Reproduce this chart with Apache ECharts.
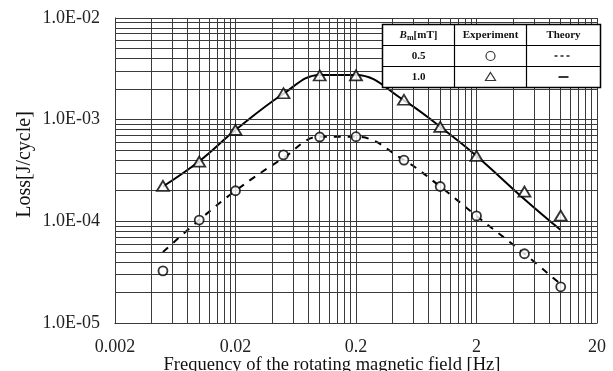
<!DOCTYPE html>
<html>
<head>
<meta charset="utf-8">
<script src="https://cdn.jsdelivr.net/npm/echarts@6/dist/echarts.min.js"></script>
<style>
  html, body { margin: 0; padding: 0; background: #fff; }
  #chart { width: 613px; height: 371px; }
</style>
</head>
<body>
<div id="chart"></div>
<script>
// frequency of the rotating field [Hz]
const freqs = [0.005, 0.01, 0.02, 0.05, 0.1, 0.2, 0.5, 1, 2, 5, 10];
// measured loss [J/cycle]
const exp05 = [3.26e-5, 1.03e-4, 2.0e-4, 4.5e-4, 6.75e-4, 6.8e-4, 4.0e-4, 2.2e-4, 1.13e-4, 4.8e-5, 2.27e-5];
const exp10 = [2.23e-4, 3.87e-4, 7.94e-4, 1.82e-3, 2.72e-3, 2.73e-3, 1.57e-3, 8.5e-4, 4.4e-4, 1.96e-4, 1.14e-4];
// theory curves
const theory05 = [5.0e-5, 1.03e-4, 2.0e-4, 4.2e-4, 6.8e-4, 6.8e-4, 4.0e-4, 2.2e-4, 1.13e-4, 4.8e-5, 2.4e-5];
const theory10 = [2.2e-4, 3.9e-4, 7.9e-4, 1.8e-3, 2.75e-3, 2.75e-3, 1.55e-3, 8.5e-4, 4.4e-4, 1.65e-4, 8.2e-5];
// axis labels
const xTicks = [0.002, 0.02, 0.2, 2, 20];
const yTicks = [1e-5, 1e-4, 1e-3, 1e-2];

const serif = '"Liberation Serif", "Times New Roman", serif';

// major + minor (2..9) grid positions for each decade
function gridValues(ticks) {
  const out = [];
  for (let i = 0; i < ticks.length - 1; i++) {
    for (let k = 1; k < 10; k++) out.push(+(ticks[i] * k).toPrecision(3));
  }
  out.push(ticks[ticks.length - 1]);
  return out;
}

function sciLabel(v) {
  const parts = v.toExponential(1).split('e');
  const n = Math.round(+parts[1]);
  return parts[0] + 'E' + (n < 0 ? '-' : '+') + String(Math.abs(n)).padStart(2, '0');
}

const pair = arr => freqs.map((f, i) => [f, arr[i]]);

const chart = echarts.init(document.getElementById('chart'), null, { renderer: 'canvas' });

const tblX = 380, tblY = 22, tblW = 218, tblH = 63;
const c1 = 72, c2 = 144, rH = tblH / 3;
const bold = 'bold 11px ' + serif;

const gridLine = {
  silent: true,
  precision: 12,
  symbol: ['none', 'none'],
  label: { show: false },
  lineStyle: { color: '#3a3a3a', width: 1, type: 'solid' },
  emphasis: { disabled: true }
};

// legend table drawn on top of the plot
const tableParts = [
  { type: 'rect', shape: { x: 0, y: 0, width: tblW, height: tblH }, style: { fill: '#fff', stroke: '#000', lineWidth: 1.5 } },
  { type: 'line', shape: { x1: 0, y1: rH, x2: tblW, y2: rH }, style: { stroke: '#000', lineWidth: 1.2 } },
  { type: 'line', shape: { x1: 0, y1: 2 * rH, x2: tblW, y2: 2 * rH }, style: { stroke: '#000', lineWidth: 1.2 } },
  { type: 'line', shape: { x1: c1, y1: 0, x2: c1, y2: tblH }, style: { stroke: '#000', lineWidth: 1.2 } },
  { type: 'line', shape: { x1: c2, y1: 0, x2: c2, y2: tblH }, style: { stroke: '#000', lineWidth: 1.2 } },
  {
    type: 'text',
    style: {
      x: c1 / 2, y: rH / 2, align: 'center', verticalAlign: 'middle',
      text: '{bi|B}{sub|m}{b|[mT]}',
      rich: {
        bi: { font: 'italic bold 11px ' + serif, fill: '#111', lineHeight: 14 },
        sub: { font: 'bold 8px ' + serif, fill: '#111', verticalAlign: 'bottom', lineHeight: 14 },
        b: { font: bold, fill: '#111', lineHeight: 14 }
      }
    }
  },
  { type: 'text', style: { x: (c1 + c2) / 2, y: rH / 2, align: 'center', verticalAlign: 'middle', text: 'Experiment', font: bold, fill: '#111' } },
  { type: 'text', style: { x: (c2 + tblW) / 2, y: rH / 2, align: 'center', verticalAlign: 'middle', text: 'Theory', font: bold, fill: '#111' } },
  { type: 'text', style: { x: c1 / 2, y: rH * 1.5, align: 'center', verticalAlign: 'middle', text: '0.5', font: bold, fill: '#111' } },
  { type: 'text', style: { x: c1 / 2, y: rH * 2.5, align: 'center', verticalAlign: 'middle', text: '1.0', font: bold, fill: '#111' } },
  { type: 'circle', shape: { cx: (c1 + c2) / 2, cy: rH * 1.5, r: 4.5 }, style: { fill: '#fff', stroke: '#333', lineWidth: 1.2 } },
  { type: 'polygon', shape: { points: [[(c1 + c2) / 2, rH * 2.5 - 4.5], [(c1 + c2) / 2 + 5, rH * 2.5 + 3.5], [(c1 + c2) / 2 - 5, rH * 2.5 + 3.5]] }, style: { fill: '#fff', stroke: '#333', lineWidth: 1.2 } },
  { type: 'line', shape: { x1: (c2 + tblW) / 2 - 9, y1: rH * 1.5, x2: (c2 + tblW) / 2 + 9, y2: rH * 1.5 }, style: { stroke: '#222', lineWidth: 1.3, lineDash: [3, 3] } },
  { type: 'line', shape: { x1: (c2 + tblW) / 2 - 5, y1: rH * 2.5, x2: (c2 + tblW) / 2 + 5, y2: rH * 2.5 }, style: { stroke: '#222', lineWidth: 1.8 } }
].map(el => Object.assign({ z: 100 }, el));

chart.setOption({
  animation: false,
  backgroundColor: '#fff',
  grid: { left: 115, right: 16, top: 18, bottom: 48, outerBoundsMode: 'none', containLabel: false },
  xAxis: {
    type: 'log',
    min: 0.002,
    max: 20,
    name: 'Frequency of the rotating magnetic field [Hz]',
    nameLocation: 'middle',
    nameGap: 33,
    nameMoveOverlap: false,
    nameTextStyle: { fontFamily: serif, fontSize: 18.5, color: '#111', padding: [0, 48, 0, 0] },
    axisLine: { show: true, lineStyle: { color: '#000', width: 1 } },
    axisTick: { show: false },
    splitLine: { show: false },
    axisLabel: {
      customValues: xTicks,
      margin: 15,
      fontFamily: serif,
      fontSize: 18,
      color: '#222',
      formatter: v => String(+(+v).toPrecision(2))
    }
  },
  yAxis: {
    type: 'log',
    min: 1e-5,
    max: 1e-2,
    name: 'Loss[J/cycle]',
    nameLocation: 'middle',
    nameGap: 80,
    nameMoveOverlap: false,
    nameTextStyle: { fontFamily: serif, fontSize: 20, color: '#111', padding: [0, 0, 0, 12] },
    axisLine: { show: true, lineStyle: { color: '#000', width: 1 } },
    axisTick: { show: false },
    splitLine: { show: false },
    axisLabel: {
      customValues: yTicks,
      margin: 15,
      fontFamily: serif,
      fontSize: 18,
      color: '#222',
      formatter: v => sciLabel(+v)
    }
  },
  series: [
    {
      name: 'vgrid',
      type: 'line',
      data: [],
      silent: true,
      markLine: Object.assign({ data: gridValues(xTicks).map(v => ({ xAxis: v })) }, gridLine)
    },
    {
      name: 'hgrid',
      type: 'line',
      data: [],
      silent: true,
      markLine: Object.assign({ data: gridValues(yTicks).map(v => ({ yAxis: v })) }, gridLine)
    },
    {
      name: 'Theory 1.0',
      type: 'line',
      data: pair(theory10),
      smooth: 0.4,
      showSymbol: false,
      z: 3,
      lineStyle: { color: '#000', width: 2 }
    },
    {
      name: 'Theory 0.5',
      type: 'line',
      data: pair(theory05),
      smooth: 0.4,
      showSymbol: false,
      z: 3,
      lineStyle: { color: '#000', width: 2, type: [7, 7] }
    },
    {
      name: 'Experiment 1.0',
      type: 'scatter',
      data: pair(exp10),
      symbol: 'triangle',
      symbolSize: [12, 10],
      z: 5,
      itemStyle: { color: '#fff', borderColor: '#000', borderWidth: 1.8 }
    },
    {
      name: 'Experiment 0.5',
      type: 'scatter',
      data: pair(exp05),
      symbol: 'circle',
      symbolSize: 9,
      z: 5,
      itemStyle: { color: '#fff', borderColor: '#000', borderWidth: 1.8 }
    }
  ],
  graphic: [{
    type: 'group',
    left: tblX,
    top: tblY,
    z: 100,
    children: tableParts
  }]
});
</script>
</body>
</html>
